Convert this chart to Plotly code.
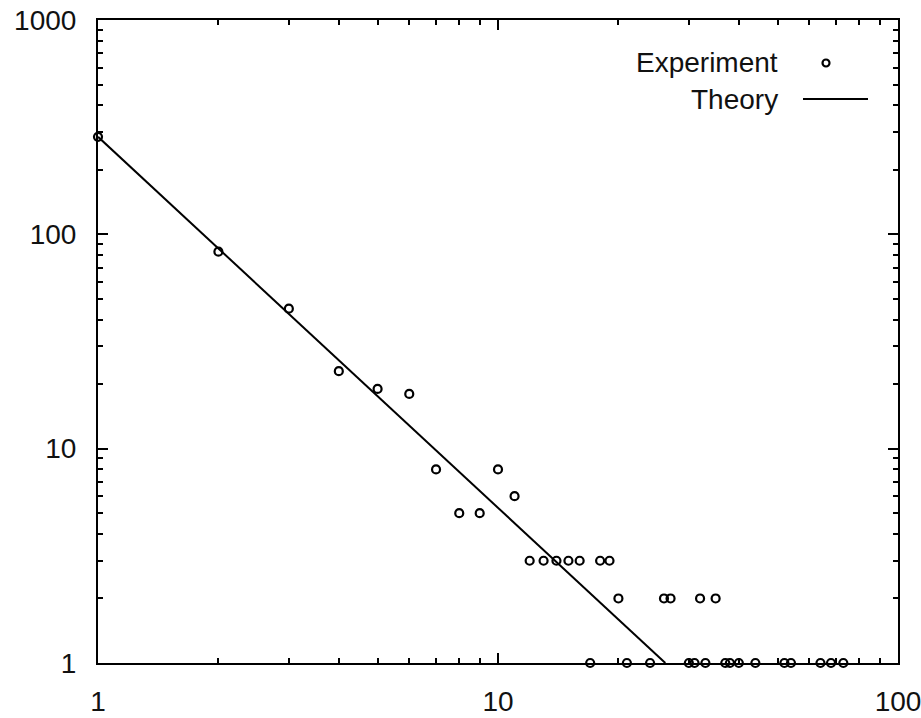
import plotly.graph_objects as go

# Experimental data (degree k vs count)
exp_x = [1, 2, 3, 4, 5, 6, 7, 8, 9, 10, 11,
         12, 13, 14, 15, 16, 18, 19,
         20, 26, 27, 32, 35,
         17, 21, 24, 30, 31, 33, 37, 38, 40, 44, 52, 54, 64, 68, 73]
exp_y = [285, 83, 45, 23, 19, 18, 8, 5, 5, 8, 6,
         3, 3, 3, 3, 3, 3, 3,
         2, 2, 2, 2, 2,
         1, 1, 1, 1, 1, 1, 1, 1, 1, 1, 1, 1, 1, 1, 1]

# Theory line endpoints (straight line on log-log axes)
theory_x = [1, 26.2]
theory_y = [285, 1]

major_ticks = [1, 10, 100]
major_ticks_y = [1, 10, 100, 1000]
tick_labels_x = ["1", "10", "100"]
tick_labels_y = ["1", "10", "100", "1000"]
minor_x = [2, 3, 4, 5, 6, 7, 8, 9, 20, 30, 40, 50, 60, 70, 80, 90]
minor_y = [2, 3, 4, 5, 6, 7, 8, 9, 20, 30, 40, 50, 60, 70, 80, 90,
           200, 300, 400, 500, 600, 700, 800, 900]

FONT = "Liberation Sans, Arial, sans-serif"

fig = go.Figure()
fig.add_trace(go.Scatter(
    x=theory_x, y=theory_y, mode="lines", name="Theory",
    line=dict(color="black", width=2), showlegend=False, cliponaxis=True))
fig.add_trace(go.Scatter(
    x=exp_x, y=exp_y, mode="markers", name="Experiment",
    marker=dict(symbol="circle-open", size=8, color="black",
                line=dict(color="black", width=2.2)),
    showlegend=False, cliponaxis=False))

axis_common = dict(
    type="log", showgrid=False, zeroline=False, automargin=False,
    showline=True, linecolor="black", linewidth=2, mirror="allticks",
    ticks="inside", ticklen=10, tickwidth=1.5, tickcolor="black",
    ticklabeloverflow="allow",
    tickfont=dict(family=FONT, size=28, color="#111"),
)

fig.update_xaxes(**axis_common, range=[0, 2], tickvals=major_ticks,
                 ticktext=tick_labels_x, ticklabelstandoff=12,
                 minor=dict(tickvals=minor_x, ticks="inside", ticklen=5,
                            tickwidth=1.5, tickcolor="black", showgrid=False))
fig.update_yaxes(**axis_common, range=[0, 3], tickvals=major_ticks_y,
                 ticktext=tick_labels_y, ticklabelstandoff=14,
                 minor=dict(tickvals=minor_y, ticks="inside", ticklen=5,
                            tickwidth=1.5, tickcolor="black", showgrid=False))

# Legend (text on the left, key on the right, gnuplot style)
W, H = 921, 718
L, R, T, B = 98, 23, 20, 55
pw, ph = W - L - R, H - T - B

def px(x):
    return (x - L) / pw

def py(y):
    return 1 - (y - T) / ph

fig.add_annotation(x=px(780), y=py(62), xref="paper", yref="paper",
                   text="Experiment", showarrow=False, xanchor="right",
                   yanchor="middle",
                   font=dict(family=FONT, size=28, color="#111"))
fig.add_annotation(x=px(780), y=py(99), xref="paper", yref="paper",
                   text="Theory", showarrow=False, xanchor="right",
                   yanchor="middle",
                   font=dict(family=FONT, size=28, color="#111"))
fig.add_shape(type="circle", xref="paper", yref="paper",
              x0=px(822.5), x1=px(829.5), y0=py(59.5), y1=py(66.5),
              line=dict(color="black", width=2.2))
fig.add_shape(type="line", xref="paper", yref="paper",
              x0=px(803), x1=px(868), y0=py(99), y1=py(99),
              line=dict(color="black", width=2))

fig.update_layout(
    width=W, height=H,
    margin=dict(l=L, r=R, t=T, b=B),
    plot_bgcolor="white", paper_bgcolor="white",
    showlegend=False,
)

fig.write_html("out.html",
               config={"displayModeBar": False},
               post_script="document.body.style.margin='0';"
                           "document.body.style.overflow='hidden';")
